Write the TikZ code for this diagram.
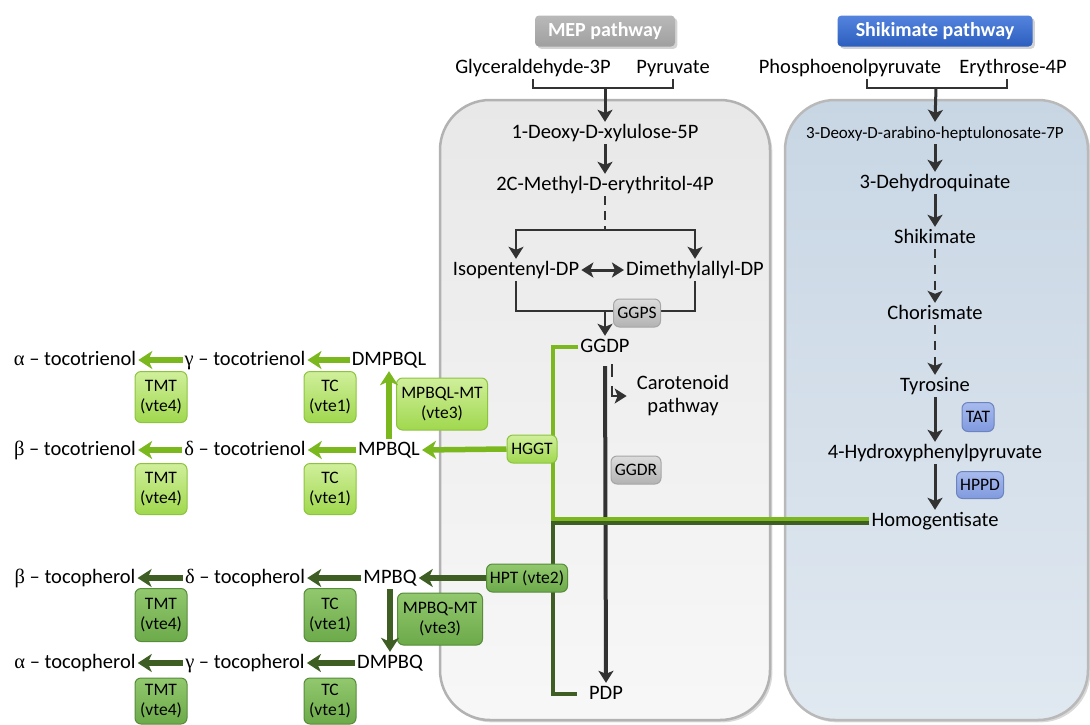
\documentclass[tikz,border=0pt]{standalone}
\usepackage{fontspec}
\setmainfont{Carlito}
\newfontfamily\grk{Liberation Serif}
\usepackage{xcolor}
\usetikzlibrary{arrows.meta,shadows,positioning}

\definecolor{lgline}{RGB}{122,184,30}
\definecolor{dgline}{RGB}{62,94,36}
\definecolor{arrgrey}{RGB}{50,50,50}
\definecolor{lgtop}{RGB}{208,239,155}
\definecolor{lgbot}{RGB}{160,216,78}
\definecolor{lgbord}{RGB}{140,196,62}
\definecolor{dgtop}{RGB}{146,200,110}
\definecolor{dgbot}{RGB}{108,170,74}
\definecolor{dgbord}{RGB}{86,140,58}
\definecolor{gytop}{RGB}{220,220,220}
\definecolor{gybot}{RGB}{178,178,178}
\definecolor{butop}{RGB}{168,187,238}
\definecolor{bubot}{RGB}{128,154,222}

\tikzset{
  met/.style={font=\fontsize{20.5}{23}\selectfont, text height=14pt, text depth=4pt, inner sep=2pt},
  smallmet/.style={met, font=\fontsize{17}{20}\selectfont},
  arr/.style={draw=arrgrey, line width=3pt, -{Stealth[length=12pt,width=15pt,inset=3pt]}},
  brk/.style={draw=arrgrey, line width=1.6pt},
  lgarr/.style={draw=lgline, line width=5.5pt, -{Stealth[length=14pt,width=18pt,inset=4pt]}},
  dgarr/.style={draw=dgline, line width=5.5pt, -{Stealth[length=14pt,width=18pt,inset=4pt]}},
  enz/.style={font=\fontsize{17.5}{20}\selectfont, rounded corners=6pt, line width=1pt,
    align=center, inner sep=2pt},
  enzlg/.style={enz, draw=lgbord, top color=lgtop, bottom color=lgbot},
  enzdg/.style={enz, draw=dgbord, top color=dgtop, bottom color=dgbot},
  enzgy/.style={enz, draw=gray!70, top color=gytop, bottom color=gybot},
  enzbu/.style={enz, draw=bubot!85!black, top color=butop, bottom color=bubot},
  pathlab/.style={font=\bfseries\fontsize{20}{23}\selectfont, text=white, rounded corners=4pt,
    minimum height=31pt, drop shadow={opacity=0.35}},
}

\begin{document}
\begin{tikzpicture}[x=1pt, y=-1pt]
\useasboundingbox (0,0) rectangle (1090,724);

% pathway panels
\draw[rounded corners=50pt, line width=2.5pt, draw=gray!60, top color=gray!18, bottom color=gray!6,
  drop shadow={opacity=0.3}] (440,100) rectangle (770,720);
\draw[rounded corners=50pt, line width=2.5pt, draw=gray!55, top color={rgb,255:red,200;green,214;blue,228},
  bottom color={rgb,255:red,224;green,232;blue,240}, drop shadow={opacity=0.3}] (785,100) rectangle (1088,720);

\node[pathlab, top color=gray!55, bottom color=gray!75, minimum width=140pt] (meplab) at (605,31) {MEP pathway};
\node[pathlab, top color={rgb,255:red,84;green,132;blue,222}, bottom color={rgb,255:red,44;green,94;blue,190},
  minimum width=195pt] (shklab) at (935,31) {Shikimate pathway};

% MEP pathway
\node[met] (glyc) at (533,68) {Glyceraldehyde-3P};
\node[met] (pyr) at (673,68) {Pyruvate};
\node[met] (dxp) at (605,133) {1-Deoxy-D-xylulose-5P};
\node[met] (mec) at (605,185) {2C-Methyl-D-erythritol-4P};
\node[met] (ipp) at (516,270) {Isopentenyl-DP};
\node[met] (dmapp) at (695,270) {Dimethylallyl-DP};
\node[met] (ggdp) at (605,347) {GGDP};
\node[met, align=center, text height=, text depth=] (carot) at (683,396) {Carotenoid\\pathway};
\node[met] (pdp) at (606,694) {PDP};

\coordinate (mepj) at (605,88);
\coordinate (ipj) at (605,230);
\coordinate (ggj) at (605,311);
\draw[brk] (glyc.south) |- (mepj) -| (pyr.south);
\draw[arr] (mepj) -- (dxp.north);
\draw[arr] (dxp.south) -- (mec.north);
\draw[brk, dash pattern=on 9pt off 6pt] (mec.south) -- (ipj);
\draw[arr, line width=1.8pt] (ipj) -| (ipp.north);
\draw[arr, line width=1.8pt] (ipj) -| (dmapp.north);
\draw[arr, {Stealth[length=12pt,width=15pt,inset=3pt]}-{Stealth[length=12pt,width=15pt,inset=3pt]}] (ipp.east) -- (dmapp.west);
\draw[brk] (ipp.south) |- (ggj) -| (dmapp.south);
\draw[arr, line width=1.8pt] (ggj) -- (ggdp.north);
\draw[arr, line width=4pt, shorten <=8pt] (ggdp.south) -- (pdp.north);
\coordinate (carj) at (612,364);
\draw[arr, line width=1.6pt, dash pattern=on 13pt off 9pt on 60pt] (carj) |- ([xshift=-8pt]carot.west);

% Shikimate pathway
\node[met] (pep) at (850,68) {Phosphoenolpyruvate};
\node[met] (e4p) at (1013,68) {Erythrose-4P};
\node[smallmet] (dahp) at (935,133) {3-Deoxy-D-arabino-heptulonosate-7P};
\node[met] (dhq) at (935,183) {3-Dehydroquinate};
\node[met] (shk) at (935,238) {Shikimate};
\node[met] (chor) at (935,314) {Chorismate};
\node[met] (tyr) at (935,386) {Tyrosine};
\node[met] (hpp) at (935,453) {4-Hydroxyphenylpyruvate};
\node[met] (hga) at (935,521) {Homogentisate};

\coordinate (shkj) at (936,88);
\draw[brk] (pep.south) ++(17,0) |- (shkj);
\draw[brk] (shkj) -| ([xshift=-6pt]e4p.south);
\draw[arr] (shkj) -- (dahp.north);
\draw[arr] (dahp.south) -- (dhq.north);
\draw[arr] (dhq.south) -- (shk.north);
\draw[arr, line width=1.6pt, dash pattern=on 9pt off 7pt] (shk.south) -- (chor.north);
\draw[arr, line width=1.6pt, dash pattern=on 9pt off 7pt] (chor.south) -- (tyr.north);
\draw[arr] (tyr.south) -- (hpp.north);
\draw[arr] (hpp.south) -- (hga.north);

% prenyl side chains
\coordinate (lj) at (553,519);
\coordinate (dj) at (553,523);
\draw[draw=lgline, line width=4.5pt] (ggdp.west) -| (lj) -- (lj -| hga.west);
\draw[draw=dgline, line width=4.5pt] (dj -| hga.west) -- (dj) |- ([xshift=-10pt]pdp.west);

% tocotrienols
\node[met] (atri) at (75,360) {{\grk α} – tocotrienol};
\node[met] (gtri) at (245,360) {{\grk γ} – tocotrienol};
\node[met] (dmpbql) at (389,360) {DMPBQL};
\node[met] (btri) at (75,450) {{\grk β} – tocotrienol};
\node[met] (dtri) at (245,450) {{\grk δ} – tocotrienol};
\node[met] (mpbql) at (389,450) {MPBQL};

% tocopherols
\node[met] (bphe) at (75,578) {{\grk β} – tocopherol};
\node[met] (dphe) at (245,578) {{\grk δ} – tocopherol};
\node[met] (mpbq) at (390,578) {MPBQ};
\node[met] (aphe) at (75,663) {{\grk α} – tocopherol};
\node[met] (gphe) at (245,663) {{\grk γ} – tocopherol};
\node[met] (dmpbq) at (390,663) {DMPBQ};

% enzymes
\node[enzgy, minimum width=47pt, minimum height=28pt] (ggps) at (637,313) {GGPS};
\node[enzgy, minimum width=50pt, minimum height=28pt] (ggdr) at (636,470) {GGDR};
\node[enzbu, minimum width=32pt, minimum height=29pt] (tat) at (978,417) {TAT};
\node[enzbu, minimum width=47pt, minimum height=27pt] (hppd) at (980,485) {HPPD};
\node[enzlg, minimum width=50pt, minimum height=28pt] (hggt) at (532,449) {HGGT};
\node[enzdg, minimum width=81pt, minimum height=28pt] (hpt) at (527,578) {HPT (vte2)};

\node[enzlg, minimum width=52pt, minimum height=51pt] (tmt1) at (161,397) {TMT\\(vte4)};
\node[enzlg, minimum width=52pt, minimum height=51pt] (tc1) at (330,397) {TC\\(vte1)};
\node[enzlg, minimum width=91pt, minimum height=52pt] (mpbqlmt) at (442,404) {MPBQL-MT\\(vte3)};
\node[enzlg, minimum width=52pt, minimum height=51pt] (tmt2) at (161,489) {TMT\\(vte4)};
\node[enzlg, minimum width=52pt, minimum height=51pt] (tc2) at (330,489) {TC\\(vte1)};
\node[enzdg, minimum width=52pt, minimum height=53pt] (tmt3) at (161,615) {TMT\\(vte4)};
\node[enzdg, minimum width=52pt, minimum height=53pt] (tc3) at (330,615) {TC\\(vte1)};
\node[enzdg, minimum width=85pt, minimum height=52pt] (mpbqmt) at (440,619) {MPBQ-MT\\(vte3)};
\node[enzdg, minimum width=52pt, minimum height=46pt] (tmt4) at (161,701) {TMT\\(vte4)};
\node[enzdg, minimum width=52pt, minimum height=46pt] (tc4) at (330,701) {TC\\(vte1)};

% reactions
\draw[lgarr] (hggt.west) -- (mpbql.east);
\draw[lgarr] (mpbql.north) -- (dmpbql.south);
\draw[lgarr] (dmpbql.west) -- (gtri.east);
\draw[lgarr] (gtri.west) -- (atri.east);
\draw[lgarr] (mpbql.west) -- (dtri.east);
\draw[lgarr] (dtri.west) -- (btri.east);
\draw[dgarr] (hpt.west) -- (mpbq.east);
\draw[dgarr] (mpbq.south) -- (dmpbq.north);
\draw[dgarr] (mpbq.west) -- (dphe.east);
\draw[dgarr] (dphe.west) -- (bphe.east);
\draw[dgarr] (dmpbq.west) -- (gphe.east);
\draw[dgarr] (gphe.west) -- (aphe.east);
\end{tikzpicture}
\end{document}
